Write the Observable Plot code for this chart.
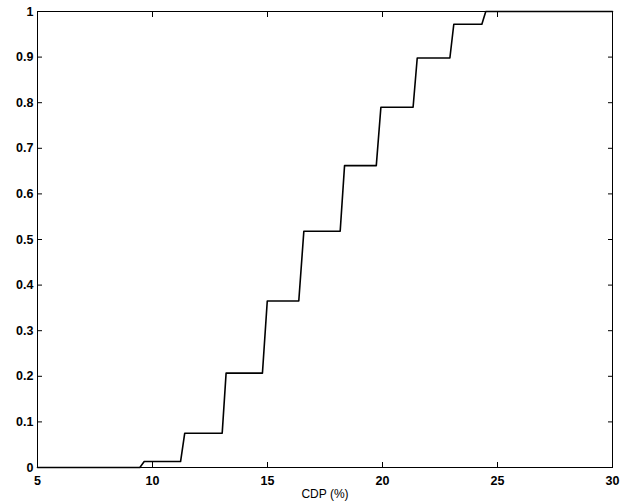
<!DOCTYPE html>
<html>
<head>
<meta charset="utf-8">
<script src="https://cdn.jsdelivr.net/npm/d3@7"></script>
<script src="https://cdn.jsdelivr.net/npm/@observablehq/plot@0.6"></script>
<style>
  body { margin: 0; background: #fff; }
  #chart svg { display: block; }
</style>
</head>
<body>
<div id="chart"></div>
<script>
const cdpX = [5, 9.45, 9.64, 11.22, 11.40, 13.03, 13.20, 14.78, 14.99, 16.36, 16.58, 18.16, 18.35, 19.73, 19.93, 21.33, 21.51, 22.93, 23.10, 24.32, 24.49, 30];
const cdfY = [0, 0, 0.013, 0.013, 0.075, 0.075, 0.207, 0.207, 0.365, 0.365, 0.518, 0.518, 0.662, 0.662, 0.790, 0.790, 0.898, 0.898, 0.972, 0.972, 1, 1];
const xTicks = [5, 10, 15, 20, 25, 30];
const yTicks = [0, 0.1, 0.2, 0.3, 0.4, 0.5, 0.6, 0.7, 0.8, 0.9, 1];

const data = cdpX.map((x, i) => ({x, y: cdfY[i]}));
const fmtY = d => d === 0 ? "0" : d === 1 ? "1" : d3.format(".1f")(d);

const chart = Plot.plot({
  width: 628,
  height: 502,
  marginLeft: 37,
  marginRight: 16,
  marginTop: 11,
  marginBottom: 35,
  style: {fontFamily: "'Liberation Sans', Arial, sans-serif", fontSize: "12px", color: "#000", background: "#fff"},
  x: {domain: [5, 30]},
  y: {domain: [0, 1]},
  marks: [
    Plot.frame({stroke: "#000", strokeWidth: 1}),
    Plot.axisX(xTicks, {anchor: "bottom", tickSize: -5, tickPadding: 14, tickFormat: d => String(d), fontWeight: "bold", fontSize: 12.5, label: null}),
    Plot.axisX(xTicks, {anchor: "bottom", tickSize: 0, tickFormat: () => "", label: "CDP (%)", labelAnchor: "center", labelArrow: "none", labelOffset: 30, fontSize: 12}),
    Plot.axisX(xTicks, {anchor: "top", tickSize: -5, tickFormat: () => "", label: null}),
    Plot.axisY(yTicks, {anchor: "left", tickSize: -5, tickPadding: 9, tickFormat: fmtY, fontWeight: "bold", fontSize: 12.5, label: null}),
    Plot.axisY(yTicks, {anchor: "right", tickSize: -5, tickFormat: () => "", label: null}),
    Plot.line(data, {x: "x", y: "y", stroke: "#000", strokeWidth: 1.6, curve: "linear"})
  ]
});
document.getElementById("chart").appendChild(chart);
</script>
</body>
</html>
